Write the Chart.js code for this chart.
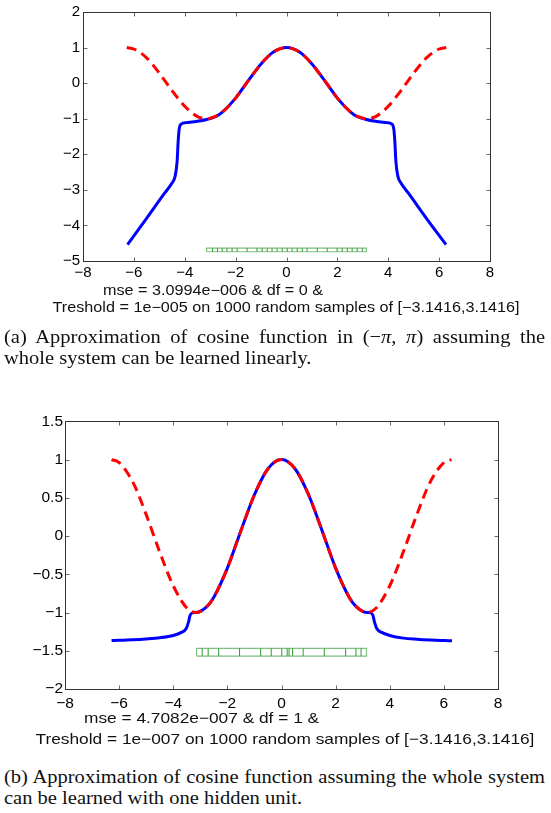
<!DOCTYPE html>
<html>
<head>
<meta charset="utf-8">
<script src="https://cdn.jsdelivr.net/npm/chart.js@4.4.0/dist/chart.umd.min.js"></script>
<style>
  body { margin: 0; background: #fff; width: 551px; height: 813px; position: relative; overflow: hidden; }
  canvas { position: absolute; left: 0; }
  .xl { position: absolute; font-family: "Liberation Sans", Arial, sans-serif; white-space: nowrap; color: #111; line-height: 18px; }
  .cap { position: absolute; left: 4px; width: 501px; font-family: "Liberation Serif", "Times New Roman", serif; font-size: 19px; line-height: 21px; color: #111; transform: scaleX(1.08); transform-origin: left top; }
  .cap .l1 { text-align: justify; text-align-last: justify; white-space: nowrap; }
</style>
</head>
<body>
<canvas id="chartA" width="551" height="285" style="top:0"></canvas>
<div class="xl" style="left:103px;top:281px;font-size:14px;transform:scaleX(1.156);transform-origin:left center">mse = 3.0994e−006 &amp; df = 0 &amp;</div>
<div class="xl" style="left:-14px;width:600px;text-align:center;top:298px;font-size:14px;transform:scaleX(1.156)">Treshold = 1e−005 on 1000 random samples of [−3.1416,3.1416]</div>
<div class="cap" style="top:326px">
  <div class="l1">(a) Approximation of cosine function in (−<i>π</i>, <i>π</i>) assuming the</div>
  <div>whole system can be learned linearly.</div>
</div>

<canvas id="chartB" width="551" height="306" style="top:410px"></canvas>
<div class="xl" style="left:84px;top:709px;font-size:15px;transform:scaleX(1.153);transform-origin:left center">mse = 4.7082e−007 &amp; df = 1 &amp;</div>
<div class="xl" style="left:-15px;width:600px;text-align:center;top:730px;font-size:15px;transform:scaleX(1.153)">Treshold = 1e−007 on 1000 random samples of [−3.1416,3.1416]</div>
<div class="cap" style="top:766px">
  <div class="l1">(b) Approximation of cosine function assuming the whole system</div>
  <div>can be learned with one hidden unit.</div>
</div>

<script>
// ---- (a) linear model ----
const cosXA = [-6.28, -6, -5.5, -5, -4.5, -4, -3.5, -3.14, -2.75, -2.5, -2, -1.5, -1, -0.5, 0, 0.5, 1, 1.5, 2, 2.5, 2.75, 3.14, 3.5, 4, 4.5, 5, 5.5, 6, 6.28];
const cosYA = [1.00, 0.96, 0.71, 0.28, -0.21, -0.65, -0.94, -1.00, -0.92, -0.80, -0.42, 0.07, 0.54, 0.88, 1.00, 0.88, 0.54, 0.07, -0.42, -0.80, -0.92, -1.00, -0.94, -0.65, -0.21, 0.28, 0.71, 0.96, 1.00];
const fitXA = [-6.25, -5.5, -4.8, -4.5, -4.38, -4.3, -4.26, -4.22, -4.14, -3.95, -3.5, -3.14, -2.75, -2.5, -2, -1.5, -1, -0.5, 0, 0.5, 1, 1.5, 2, 2.5, 2.75, 3.14, 3.5, 3.95, 4.14, 4.22, 4.26, 4.3, 4.38, 4.5, 4.8, 5.5, 6.27];
const fitYA = [-4.54, -3.80, -3.10, -2.81, -2.62, -2.20, -1.65, -1.30, -1.15, -1.11, -1.07, -1.02, -0.93, -0.80, -0.42, 0.07, 0.54, 0.88, 1.00, 0.88, 0.54, 0.07, -0.42, -0.80, -0.93, -1.02, -1.07, -1.11, -1.15, -1.30, -1.65, -2.20, -2.62, -2.81, -3.10, -3.80, -4.54];
const rugXA = [-2.91, -2.71, -2.53, -2.34, -2.14, -1.94, -1.55, -1.16, -0.96, -0.76, -0.57, -0.37, -0.17, 0.03, 0.22, 0.42, 0.62, 0.81, 1.21, 1.60, 1.99, 2.19, 2.39, 2.58, 2.78, 2.98];
const rugBandA = [-4.74, -4.64];

// ---- (b) one hidden unit ----
const cosXB = [-6.28, -6, -5.5, -5, -4.5, -4, -3.5, -3.14, -2.75, -2.5, -2, -1.5, -1, -0.5, 0, 0.5, 1, 1.5, 2, 2.5, 2.75, 3.14, 3.5, 4, 4.5, 5, 5.5, 6, 6.28];
const cosYB = [1.00, 0.96, 0.71, 0.28, -0.21, -0.65, -0.94, -1.00, -0.92, -0.80, -0.42, 0.07, 0.54, 0.88, 1.00, 0.88, 0.54, 0.07, -0.42, -0.80, -0.92, -1.00, -0.94, -0.65, -0.21, 0.28, 0.71, 0.96, 1.00];
const fitXB = [-6.28, -5.5, -5, -4.5, -4, -3.7, -3.52, -3.44, -3.38, -3.3, -3.14, -2.75, -2.5, -2, -1.5, -1, -0.5, 0, 0.5, 1, 1.5, 2, 2.5, 2.75, 3.14, 3.3, 3.38, 3.44, 3.52, 3.7, 4, 4.5, 5, 5.5, 6.3];
const fitYB = [-1.365, -1.355, -1.345, -1.33, -1.30, -1.26, -1.21, -1.13, -1.04, -1.005, -1.00, -0.92, -0.80, -0.42, 0.07, 0.54, 0.88, 1.00, 0.88, 0.54, 0.07, -0.42, -0.80, -0.92, -1.00, -1.005, -1.04, -1.13, -1.21, -1.26, -1.30, -1.335, -1.35, -1.36, -1.37];
const rugXB = [-2.93, -2.71, -2.32, -1.55, -0.77, -0.38, 0.01, 0.21, 0.28, 0.41, 0.80, 1.58, 2.37, 2.75, 2.94];
const rugBandB = [-1.57, -1.47];

const rugSpan = [-3.14, 3.14];
const xTicks = { min: -8, max: 8, step: 2 };

const pts = (xs, ys) => xs.map((x, i) => ({ x, y: ys[i] }));

// rectangle outline of the sample range
const rugBox = (band) => [
  { x: rugSpan[0], y: band[0] }, { x: rugSpan[1], y: band[0] },
  { x: rugSpan[1], y: band[1] }, { x: rugSpan[0], y: band[1] },
  { x: rugSpan[0], y: band[0] }
];
// one short vertical stroke per sample, separated by gaps
const rugLines = (xs, band) => {
  const out = [];
  xs.forEach(x => { out.push({ x, y: band[0] }, { x, y: band[1] }, { x, y: null }); });
  return out;
};

const minus = v => String(v).replace('-', '\u2212');

// MATLAB-like box with inward ticks on all four sides
const boxPlugin = {
  id: 'matlabBox',
  afterDatasetsDraw(chart) {
    const { ctx, chartArea: a, scales } = chart;
    const l = Math.round(a.left) + 0.5, r = Math.round(a.right) + 0.5;
    const t = Math.round(a.top) + 0.5, b = Math.round(a.bottom) + 0.5;
    ctx.save();
    ctx.lineWidth = 1;
    ctx.strokeStyle = '#6a6a6a';
    ctx.beginPath();
    scales.x.ticks.forEach(tk => {
      const p = Math.round(scales.x.getPixelForValue(tk.value)) + 0.5;
      ctx.moveTo(p, b); ctx.lineTo(p, b - 4);
      ctx.moveTo(p, t); ctx.lineTo(p, t + 4);
    });
    scales.y.ticks.forEach(tk => {
      const p = Math.round(scales.y.getPixelForValue(tk.value)) + 0.5;
      ctx.moveTo(l, p); ctx.lineTo(l + 4, p);
      ctx.moveTo(r, p); ctx.lineTo(r - 4, p);
    });
    ctx.stroke();
    ctx.strokeStyle = '#333';
    ctx.strokeRect(l, t, r - l, b - t);
    ctx.restore();
  }
};

function makeChart(id, d) {
  const tickFont = { family: 'Liberation Sans', size: d.fs };
  return new Chart(document.getElementById(id), {
    type: 'line',
    data: {
      datasets: [
        {
          data: pts(d.cosX, d.cosY),
          borderColor: '#ff0000',
          borderWidth: 3,
          borderDash: [10, 6],
          cubicInterpolationMode: 'monotone',
          pointRadius: 0
        },
        {
          data: pts(d.fitX, d.fitY),
          borderColor: '#0000ff',
          borderWidth: 3,
          cubicInterpolationMode: 'monotone',
          pointRadius: 0
        },
        {
          data: rugLines(d.rugX, d.band),
          borderColor: '#2f9a2f',
          borderWidth: 1,
          tension: 0,
          spanGaps: false,
          pointRadius: 0
        },
        {
          data: rugBox(d.band),
          borderColor: 'rgba(40,150,40,0.6)',
          borderWidth: 1.2,
          tension: 0,
          pointRadius: 0
        }
      ]
    },
    options: {
      responsive: false,
      animation: false,
      events: [],
      layout: { padding: d.pad },
      plugins: { legend: { display: false }, tooltip: { enabled: false } },
      scales: {
        x: {
          type: 'linear',
          min: xTicks.min,
          max: xTicks.max,
          afterFit: s => { s.height = d.xh; },
          grid: { display: false, drawTicks: false },
          border: { display: false },
          ticks: { stepSize: xTicks.step, autoSkip: false, maxRotation: 0, padding: d.xp, color: '#000', font: tickFont, callback: minus }
        },
        y: {
          type: 'linear',
          min: d.yMin,
          max: d.yMax,
          afterFit: s => { s.width = d.yw; },
          grid: { display: false, drawTicks: false },
          border: { display: false },
          ticks: { stepSize: d.yStep, autoSkip: false, padding: d.yp, color: '#000', font: tickFont, callback: minus }
        }
      }
    },
    plugins: [boxPlugin]
  });
}

makeChart('chartA', {
  cosX: cosXA, cosY: cosYA, fitX: fitXA, fitY: fitYA, rugX: rugXA, band: rugBandA,
  yMin: -5, yMax: 2, yStep: 1,
  pad: { left: 0, right: 61, top: 8, bottom: 0 }, yw: 83, xh: 24, xp: 3, yp: 3, fs: 15
});

makeChart('chartB', {
  cosX: cosXB, cosY: cosYB, fitX: fitXB, fitY: fitYB, rugX: rugXB, band: rugBandB,
  yMin: -2, yMax: 1.5, yStep: 0.5,
  pad: { left: 0, right: 53, top: 10, bottom: 0 }, yw: 65, xh: 27, xp: 5, yp: 2, fs: 15.5
});
</script>
</body>
</html>
